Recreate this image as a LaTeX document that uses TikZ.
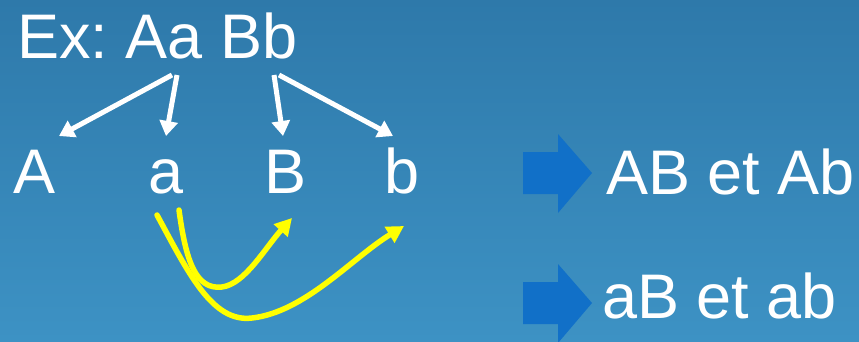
\documentclass[tikz,border=0pt]{standalone}
\usepackage{fontspec}
\setmainfont{Liberation Sans}
\usetikzlibrary{arrows.meta}
\definecolor{bgtop}{HTML}{2E79AA}
\definecolor{bgbot}{HTML}{3D92C4}
\definecolor{blockblue}{HTML}{1170C8}
\definecolor{hlyellow}{HTML}{FFFF00}
\frenchspacing
\tikzset{
  txt/.style={text=white, inner sep=0pt, font=\fontsize{63}{63}\selectfont},
  splitarrow/.style={draw=white, line width=5pt, -{Triangle[length=15pt,width=18pt]}},
  combarrow/.style={draw=hlyellow, line width=5.5pt, line cap=round, -{Triangle[length=17pt,width=18pt]}},
  blockarrow/.style={fill=blockblue, draw=none}
}
\begin{document}
\begin{tikzpicture}[x=1pt,y=-1pt]
\shade[top color=bgtop, bottom color=bgbot] (0,0) rectangle (859,341);
\useasboundingbox (0,0) rectangle (859,341);
% title
\node[txt, anchor=base west] (title) at (17,58) {Ex: Aa Bb};
% letters
\node[txt, anchor=base] (A) at (35,193) {A};
\node[txt, anchor=base] (a) at (166,193) {a};
\node[txt, anchor=base] (B) at (286,193) {B};
\node[txt, anchor=base] (b) at (402,193) {b};
% arrow endpoints
\coordinate (sAa1) at (172,75);
\coordinate (sAa2) at (177,75);
\coordinate (sBb1) at (274,75);
\coordinate (sBb2) at (279,75);
\coordinate (tA) at (59,136);
\coordinate (ta) at (166,136);
\coordinate (tB) at (283,136);
\coordinate (tb) at (393,136);
\draw[splitarrow] (sAa1) -- (tA);
\draw[splitarrow] (sAa2) -- (ta);
\draw[splitarrow] (sBb1) -- (tB);
\draw[splitarrow] (sBb2) -- (tb);
% yellow curves
\coordinate (y1s) at (179,210);
\coordinate (y1e) at (292,218);
\coordinate (y2s) at (157,215);
\coordinate (y2e) at (404,226);
\draw[combarrow] (y1s) .. controls (186,262) and (196,290) .. (222,287)
  .. controls (245,284) and (265,248) .. (y1e);
\draw[combarrow] (y2s) .. controls (188,272) and (212,323) .. (252,318)
  .. controls (305,312) and (352,258) .. (y2e);
% block arrows
\fill[blockarrow] (523,152) -- (558,152) -- (558,134) -- (592,173) -- (558,213) -- (558,194) -- (523,194) -- cycle;
\fill[blockarrow] (523,282) -- (558,282) -- (558,264) -- (592,303) -- (558,343) -- (558,324) -- (523,324) -- cycle;
% results
\node[txt, anchor=base west] (r1) at (606,194) {AB et Ab};
\node[txt, anchor=base west] (r2) at (602,318) {aB et ab};
\end{tikzpicture}
\end{document}
